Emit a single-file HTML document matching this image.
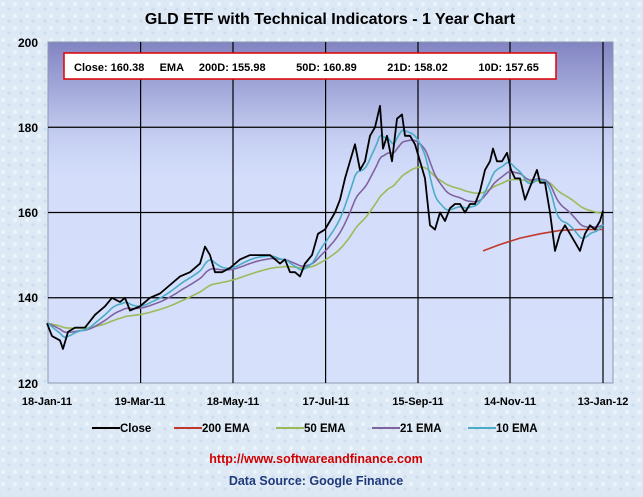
<!DOCTYPE html>
<html><head><meta charset="utf-8"><style>
body{margin:0;width:643px;height:492px;overflow:hidden;background:#dce8f4;font-family:"Liberation Sans",sans-serif;}
</style></head><body>
<svg id="s" width="643" height="492" xmlns="http://www.w3.org/2000/svg" font-family="Liberation Sans, sans-serif">
<defs>
<linearGradient id="g" x1="0" y1="0" x2="0" y2="1">
<stop offset="0" stop-color="#8284c2"/><stop offset="0.28" stop-color="#c6cff2"/><stop offset="0.4" stop-color="#d4defb"/><stop offset="1" stop-color="#d6e0fb"/>
</linearGradient>
<pattern id="tx" width="12" height="12" patternUnits="userSpaceOnUse">
<rect width="12" height="12" fill="#dde9f5"/><circle cx="3" cy="4" r="2" fill="#eef4fb"/><circle cx="9" cy="9" r="1.6" fill="#cddcee"/>
</pattern>
</defs>
<rect width="643" height="492" fill="url(#tx)"/>
<text x="330" y="24" text-anchor="middle" font-size="16" font-weight="bold" fill="#000">GLD ETF with Technical Indicators - 1 Year Chart</text>
<rect x="48" y="42" width="565" height="341" fill="url(#g)" stroke="#8a9ab0"/>
<g id="grid" stroke="#000" stroke-width="1.2"></g>
<rect x="64" y="53" width="492" height="26" fill="#fff" stroke="#e00000" stroke-width="1.5"/>
<text x="74" y="71" font-size="11" font-weight="bold" xml:space="preserve">Close: 160.38     EMA     200D: 155.98          50D: 160.89          21D: 158.02          10D: 157.65</text>
<g id="lines" fill="none" stroke-linejoin="round"></g>
<g font-size="12" font-weight="bold" text-anchor="end">
<text x="38" y="47">200</text><text x="38" y="132">180</text><text x="38" y="217">160</text><text x="38" y="302">140</text><text x="38" y="388">120</text>
</g>
<g font-size="11" font-weight="bold" text-anchor="middle">
<text x="47" y="405">18-Jan-11</text><text x="140" y="405">19-Mar-11</text><text x="233" y="405">18-May-11</text><text x="326" y="405">17-Jul-11</text><text x="418" y="405">15-Sep-11</text><text x="510" y="405">14-Nov-11</text><text x="603" y="405">13-Jan-12</text>
</g>
<g font-size="11.5" font-weight="bold">
<line x1="92" y1="428" x2="120" y2="428" stroke="#000" stroke-width="2"/><text x="120" y="432">Close</text>
<line x1="174" y1="428" x2="202" y2="428" stroke="#c0392b" stroke-width="2"/><text x="202" y="432">200 EMA</text>
<line x1="276" y1="428" x2="304" y2="428" stroke="#9bbb59" stroke-width="2"/><text x="304" y="432">50 EMA</text>
<line x1="372" y1="428" x2="400" y2="428" stroke="#8064a2" stroke-width="2"/><text x="400" y="432">21 EMA</text>
<line x1="468" y1="428" x2="496" y2="428" stroke="#4bacc6" stroke-width="2"/><text x="496" y="432">10 EMA</text>
</g>
<text x="316" y="463" text-anchor="middle" font-size="12.5" font-weight="bold" fill="#d00000">http://www.softwareandfinance.com</text>
<text x="316" y="485" text-anchor="middle" font-size="12.5" font-weight="bold" fill="#1f3a7a">Data Source: Google Finance</text>
</svg>
<script>
var NS="http://www.w3.org/2000/svg";
function Y(p){return 383-(p-120)*4.2625;}
var grid=document.getElementById('grid');
[140.6,233,325.6,418,510,603].forEach(function(x){var l=document.createElementNS(NS,'line');l.setAttribute('x1',x);l.setAttribute('x2',x);l.setAttribute('y1',42);l.setAttribute('y2',383);grid.appendChild(l);});
[180,160,140].forEach(function(p){var l=document.createElementNS(NS,'line');l.setAttribute('x1',48);l.setAttribute('x2',613);l.setAttribute('y1',Y(p));l.setAttribute('y2',Y(p));grid.appendChild(l);});
var k=[[47,134],[52,131],[60,130],[63,128],[68,132],[75,133],[85,133],[95,136],[105,138],[112,140],[120,139],[125,140],[130,137],[140,138],[150,140],[160,141],[170,143],[180,145],[190,146],[200,148],[205,152],[210,150],[215,146],[222,146],[230,147],[240,149],[250,150],[260,150],[270,150],[280,148],[285,149],[290,146],[295,146],[300,145],[305,148],[312,150],[318,155],[325,156],[330,158],[335,160],[340,163],[345,168],[350,172],[355,176],[360,170],[365,172],[370,178],[375,180],[380,185],[383,175],[387,178],[392,172],[397,182],[402,183],[405,178],[410,178],[415,176],[420,172],[425,168],[430,157],[435,156],[440,160],[445,158],[450,161],[455,162],[460,162],[465,160],[470,162],[475,162],[480,165],[485,170],[490,172],[493,175],[497,172],[502,172],[507,174],[511,170],[515,168],[520,168],[525,163],[530,166],[537,170],[540,167],[545,167],[550,160],[555,151],[560,155],[565,157],[570,155],[575,153],[580,151],[585,155],[590,157],[595,156],[600,158],[603,160.4]];
var N=252,xs=[],cs=[];
for(var i=0;i<N;i++){var x=47+556*i/(N-1);var j=0;while(j<k.length-2&&k[j+1][0]<x)j++;var a=k[j],b=k[j+1];var t=(x-a[0])/(b[0]-a[0]);t=Math.max(0,Math.min(1,t));xs.push(x);cs.push(a[1]+(b[1]-a[1])*t);}
function ema(n){var a=2/(n+1),e=cs[0],r=[];cs.forEach(function(c){e=a*c+(1-a)*e;r.push(e);});return r;}
function pl(pts,col,w){var p=document.createElementNS(NS,'polyline');p.setAttribute('points',pts.map(function(q){return q[0].toFixed(1)+','+Y(q[1]).toFixed(1);}).join(' '));p.setAttribute('stroke',col);p.setAttribute('stroke-width',w);document.getElementById('lines').appendChild(p);}
function ser(v){return xs.map(function(x,i){return [x,v[i]];});}
pl([[483,151],[500,152.5],[520,154],[540,155],[560,155.8],[580,156],[603,156]],'#c0392b',1.6);
pl(ser(ema(50)),'#9bbb59',1.6);
pl(ser(ema(21)),'#8064a2',1.6);
pl(ser(ema(10)),'#4bacc6',1.6);
pl(k,'#000',1.8);
</script>
</body></html>
